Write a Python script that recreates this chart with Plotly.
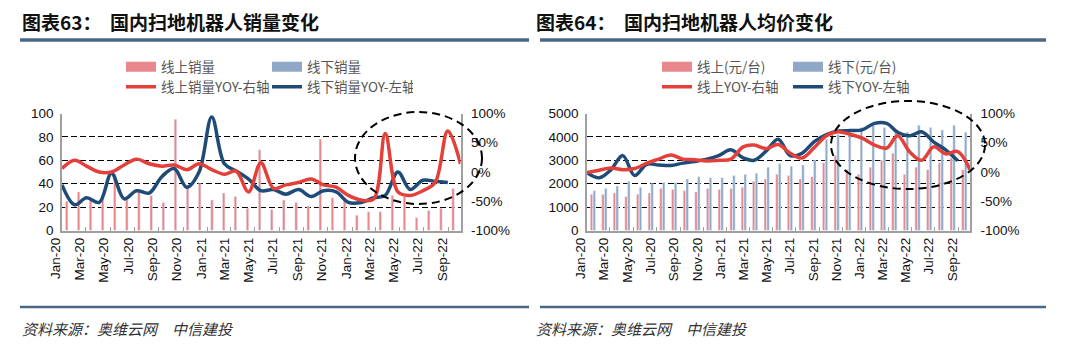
import plotly.graph_objects as go
import pandas as pd

# ---------------- data ----------------
months = [d.strftime("%Y-%m-%d") for d in pd.date_range("2020-01-01", "2022-09-01", freq="MS")]

# Chart 63: sales
online_sales = [25, 33, 26, 30, 48, 26, 33, 30, 24, 95, 37, 40, 26, 32, 29, 19, 69,
                18, 26, 24, 21, 78, 28, 26, 13, 16, 16, 30, 29, 11, 17, 19, 36]
offline_sales = [None] * 33
online_sales_yoy = [6, 20, 10, 0, 0, 12, 22, 14, 10, 12, 4, 14, 4, -4, 2, -34, 16,
                    -28, -22, -18, -12, -22, -26, -40, -48, -46, 66, -34, -40, -32, -18, 70, 14]
offline_sales_yoy = [39, 22, 28, 24, 49, 27, 34, 32, 46, 53, 37, 50, 97, 57, 51, 44,
                     34, 35, 31, 35, 29, 34, 33, 24, 24, 28, 30, 50, 35, 43, 42, 41]

# Chart 64: average price
online_price = [1550, 1540, 1600, 1450, 1550, 1600, 1800, 1750, 1700, 1650, 1800, 1750,
                1800, 1850, 2100, 2200, 2400, 2350, 2200, 2300, 2900, 3200, 2600, 2400,
                2700, 3000, 3300, 2400, 2700, 2600, 2900, 3100, 2600]
offline_price = [1700, 1800, 1900, 2100, 1850, 2000, 2050, 2050, 2200, 2300, 2250, 2250,
                 2350, 2400, 2450, 2700, 2850, 2750, 2800, 3000, 3900, 4100, 4300, 4400,
                 4500, 4400, 4300, 4200, 4500, 4400, 4300, 4500, 4200]
online_price_yoy = [-1, 3, 7, 4, 6, 15, 22, 29, 22, 21, 19, 20, 22, 43, 46, 40, 47,
                    32, 24, 42, 62, 69, 64, 58, 46, 41, 62, 34, 20, 43, 31, 35, 4]
offline_price_yoy = [2470, 2250, 2580, 3200, 2350, 2830, 2800, 2780, 2880, 2950, 3050,
                     3200, 3450, 3100, 3000, 3400, 3900, 3200, 3300, 3800, 4100, 4250,
                     4270, 4300, 4580, 4580, 4200, 4050, 4220, 3780, 3450, 2980]

left_ticks_63 = [0, 20, 40, 60, 80, 100]
left_ticks_64 = [0, 1000, 2000, 3000, 4000, 5000]
right_ticks = [-100, -50, 0, 50, 100]
right_tick_text = ["-100%", "-50%", "0%", "50%", "100%"]

# ---------------- style ----------------
W, H = 1080, 355
OFF = 8  # page body margin offset of the rendered figure
PINK = "#E8878C"
GREYBLUE = "#8FA8C6"
RED = "#E3403A"
NAVY = "#1F4B78"
AXIS = "#A0A0A0"
SLATE = "#4A6784"
TICKFONT = dict(family="Liberation Sans, Arial", size=13.5, color="#111")
LEGFONT = dict(family="Noto Sans CJK SC", size=13.5, color="#555")
GRIDDASH = "6px,3px"


def px_x(v):
    return (v - OFF) / W


def px_y(v):
    return 1 - (v - OFF) / H


fig = go.Figure()


def legend_swatch(name, color, legend, xa, ya):
    # wide rectangle legend key for a bar series (no data of its own)
    return go.Scatter(x=[None], y=[None], mode="lines", name=name,
                      line=dict(color=color, width=10), legend=legend,
                      xaxis=xa, yaxis=ya, hoverinfo="skip")


# ---- chart 63 ----
fig.add_trace(go.Bar(x=months, y=online_sales, name="线上销量", marker_color=PINK,
                     xperiod="M1", xperiodalignment="middle", showlegend=False,
                     xaxis="x", yaxis="y"))
fig.add_trace(go.Bar(x=months, y=offline_sales, name="线下销量", marker_color=GREYBLUE,
                     xperiod="M1", xperiodalignment="middle", showlegend=False,
                     xaxis="x", yaxis="y"))
fig.add_trace(legend_swatch("线上销量", PINK, "legend", "x2", "y"))
fig.add_trace(legend_swatch("线下销量", GREYBLUE, "legend", "x2", "y"))
fig.add_trace(go.Scatter(x=months, y=online_sales_yoy, name="线上销量YOY-右轴", mode="lines",
                         line=dict(color=RED, width=3.5, shape="spline"),
                         xaxis="x2", yaxis="y2", legend="legend2"))
fig.add_trace(go.Scatter(x=months[:len(offline_sales_yoy)], y=offline_sales_yoy,
                         name="线下销量YOY-左轴", mode="lines",
                         line=dict(color=NAVY, width=3.5, shape="spline"),
                         xaxis="x2", yaxis="y", legend="legend2"))

# ---- chart 64 ----
fig.add_trace(go.Bar(x=months, y=online_price, name="线上(元/台)", marker_color=PINK,
                     xperiod="M1", xperiodalignment="middle", showlegend=False,
                     xaxis="x3", yaxis="y3"))
fig.add_trace(go.Bar(x=months, y=offline_price, name="线下(元/台)", marker_color=GREYBLUE,
                     xperiod="M1", xperiodalignment="middle", showlegend=False,
                     xaxis="x3", yaxis="y3"))
fig.add_trace(legend_swatch("线上(元/台)", PINK, "legend3", "x4", "y3"))
fig.add_trace(legend_swatch("线下(元/台)", GREYBLUE, "legend3", "x4", "y3"))
fig.add_trace(go.Scatter(x=months, y=online_price_yoy, name="线上YOY-右轴", mode="lines",
                         line=dict(color=RED, width=3.5, shape="spline"),
                         xaxis="x4", yaxis="y4", legend="legend4"))
fig.add_trace(go.Scatter(x=months[:len(offline_price_yoy)], y=offline_price_yoy,
                         name="线下YOY-左轴", mode="lines",
                         line=dict(color=NAVY, width=3.5, shape="spline"),
                         xaxis="x4", yaxis="y3", legend="legend4"))

dom63 = [px_x(62), px_x(460.5)]
dom64 = [px_x(587), px_x(970)]
ydom = [px_y(230.5), px_y(113.5)]

bar_x = dict(type="date", range=["2020-01-01", "2022-10-01"], tick0="2020-01-01", dtick="M2",
             tickformat="%b-%y", tickangle=-90, tickfont=TICKFONT, ticks="inside",
             ticklen=4, tickcolor=AXIS, showgrid=False, showline=True, linecolor=AXIS,
             linewidth=1.5, zeroline=False, mirror=False, fixedrange=True, automargin=False,
             ticklabelshift=-6)
line_x = dict(type="date", range=["2020-01-01", "2022-09-01"], visible=False,
              fixedrange=True, automargin=False)


def left_y(rng, ticks):
    return dict(domain=ydom, range=rng, tickvals=ticks, tickfont=TICKFONT, showgrid=True,
                gridcolor="#000", gridwidth=1.3, griddash=GRIDDASH, zeroline=False,
                showline=True, linecolor=AXIS, linewidth=1.5, ticks="", ticklabelstandoff=4,
                automargin=False, fixedrange=True)


def right_y(anchor, overlay):
    return dict(domain=ydom, range=[-100, 100], tickvals=right_ticks, ticktext=right_tick_text,
                tickfont=TICKFONT, side="right", overlaying=overlay, anchor=anchor,
                showgrid=False, zeroline=False, showline=True, linecolor=AXIS, linewidth=1.5,
                ticks="", ticklabelstandoff=6, automargin=False, fixedrange=True)


legend_common = dict(orientation="h", xanchor="left", yanchor="middle", font=LEGFONT,
                     bgcolor="rgba(0,0,0,0)", borderwidth=0, entrywidthmode="pixels",
                     tracegroupgap=0, itemclick=False)

fig.update_layout(
    width=W, height=H, margin=dict(l=0, r=0, t=0, b=0, autoexpand=False),
    paper_bgcolor="white", plot_bgcolor="white",
    barmode="group", bargap=0.5, bargroupgap=0.15,
    xaxis=dict(domain=dom63, anchor="y", **bar_x),
    xaxis2=dict(domain=dom63, overlaying="x", anchor="y", **line_x),
    yaxis=dict(anchor="x", **left_y([0, 100], left_ticks_63)),
    yaxis2=right_y("x", "y"),
    xaxis3=dict(domain=dom64, anchor="y3", **bar_x),
    xaxis4=dict(domain=dom64, overlaying="x3", anchor="y3", **line_x),
    yaxis3=dict(anchor="x3", **left_y([0, 5000], left_ticks_64)),
    yaxis4=right_y("x3", "y3"),
    legend=dict(x=px_x(121), y=px_y(67), entrywidth=101, **legend_common),
    legend2=dict(x=px_x(121), y=px_y(87), entrywidth=101, **legend_common),
    legend3=dict(x=px_x(657), y=px_y(67), entrywidth=86, **legend_common),
    legend4=dict(x=px_x(657), y=px_y(87), entrywidth=86, **legend_common),
    showlegend=True,
)

TITLE_FONT = dict(family="Noto Sans CJK SC", size=19, color="#111")
FOOT_FONT = dict(family="Noto Sans CJK SC", size=15, color="#333")
ann = []
for x0, label, text in [(20, "图表63：", "国内扫地机器人销量变化"), (534, "图表64：", "国内扫地机器人均价变化")]:
    ann.append(dict(x=px_x(x0), y=px_y(22), xref="paper", yref="paper", xanchor="left",
                    yanchor="middle", text="<b>" + label + "</b>", showarrow=False, font=TITLE_FONT))
    ann.append(dict(x=px_x(x0 + 88), y=px_y(22), xref="paper", yref="paper", xanchor="left",
                    yanchor="middle", text="<b>" + text + "</b>", showarrow=False, font=TITLE_FONT))
    ann.append(dict(x=px_x(x0), y=px_y(328), xref="paper", yref="paper", xanchor="left",
                    yanchor="middle", text="<i>资料来源：奥维云网　中信建投</i>", showarrow=False,
                    font=FOOT_FONT))
fig.update_layout(annotations=ann)

shapes = []
for xa, xb in [(20, 529), (540, 1046)]:
    shapes.append(dict(type="line", xref="paper", yref="paper", x0=px_x(xa), x1=px_x(xb),
                       y0=px_y(40), y1=px_y(40), line=dict(color=SLATE, width=3.5)))
    shapes.append(dict(type="line", xref="paper", yref="paper", x0=px_x(xa), x1=px_x(xb),
                       y0=px_y(307), y1=px_y(307), line=dict(color=SLATE, width=2.5)))
for (xa, xb, ya, yb) in [(355, 482, 112, 204), (831, 985, 101, 189)]:
    shapes.append(dict(type="circle", xref="paper", yref="paper", x0=px_x(xa), x1=px_x(xb),
                       y0=px_y(yb), y1=px_y(ya), layer="above",
                       line=dict(color="#000", width=2, dash="8px,5px")))
fig.update_layout(shapes=shapes)

fig.write_html("out.html")
